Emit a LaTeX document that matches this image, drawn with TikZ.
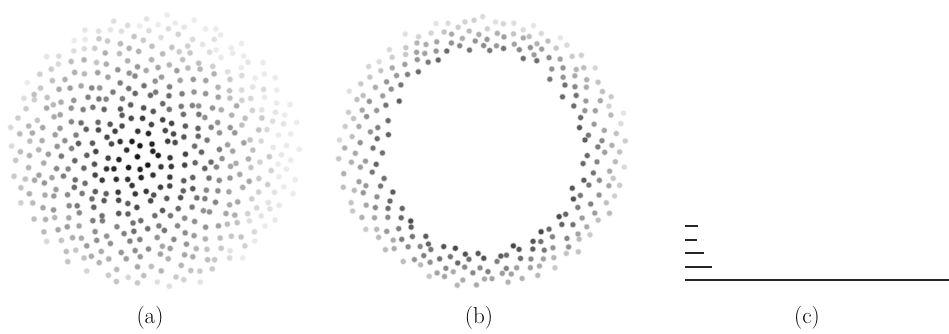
\documentclass[tikz,border=0pt]{standalone}
\begin{document}
\begin{tikzpicture}[x=1pt,y=-1pt,
  lbl/.style={font=\fontsize{23}{27}\selectfont, inner sep=0pt},
  rule/.style={line width=2pt, black!85}]
\useasboundingbox (0,0) rectangle (949,333);
\pgfmathsetseed{17}
% (a) disk of dots
\foreach \i in {1,...,480}{
  \pgfmathsetmacro{\rr}{sqrt((\i-0.5)/480)}
  \pgfmathsetmacro{\fr}{\i*0.381966}
  \pgfmathsetmacro{\th}{360*(\fr-floor(\fr))}
  \pgfmathsetmacro{\px}{154+146*\rr*cos(\th)+2.8*rand}
  \pgfmathsetmacro{\py}{150+137*\rr*sin(\th)+2.8*rand}
  \pgfmathsetmacro{\dd}{sqrt(((\px-140)/150)^2+((\py-160)/145)^2)}
  \pgfmathtruncatemacro{\g}{max(8,min(90,97-92*\dd+6*rand))}
  \fill[black!\g!white, opacity=0.35] (\px,\py) circle (3.4);
  \fill[black!\g] (\px,\py) circle (2.6);
}
% (b) annulus of dots
\foreach \i in {1,...,280}{
  \pgfmathsetmacro{\u}{(\i-0.5)/280}
  \pgfmathsetmacro{\rr}{sqrt(0.46+0.54*\u)}
  \pgfmathsetmacro{\t}{(\rr-0.678)/(1-0.678)}
  \pgfmathsetmacro{\fr}{\i*0.381966}
  \pgfmathsetmacro{\th}{360*(\fr-floor(\fr))}
  \pgfmathsetmacro{\px}{482+(95+51*\t)*cos(\th)+2.5*rand}
  \pgfmathsetmacro{\py}{151+(100+36*\t)*sin(\th)+2.5*rand}
  \pgfmathtruncatemacro{\g}{max(10,min(72,66-50*\t+8*sin(\th)+6*rand))}
  \fill[black!\g!white, opacity=0.35] (\px,\py) circle (3.3);
  \fill[black!\g] (\px,\py) circle (2.5);
}
% (c) lines
\coordinate (l0) at (685,280); \coordinate (r0) at (949,280);
\coordinate (l1) at (685,267); \coordinate (r1) at (712,267);
\coordinate (l2) at (685,253); \coordinate (r2) at (704,253);
\coordinate (l3) at (685,240); \coordinate (r3) at (697,240);
\coordinate (l4) at (685,226); \coordinate (r4) at (698,226);
\draw[rule] (l0) -- (r0);
\draw[rule] (l1) -- (r1);
\draw[rule] (l2) -- (r2);
\draw[rule] (l3) -- (r3);
\draw[rule] (l4) -- (r4);
% labels
\node[lbl] (la) at (150,318) {(a)};
\node[lbl] (lb) at (479,318) {(b)};
\node[lbl] (lc) at (807,318) {(c)};
\end{tikzpicture}
\end{document}
